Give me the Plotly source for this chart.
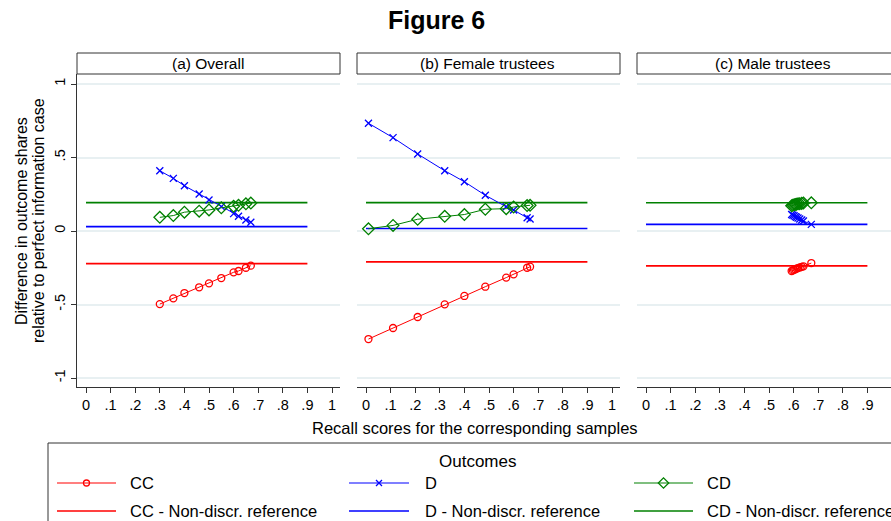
import plotly.graph_objects as go

# ---- data -------------------------------------------------------------
panel_titles = ["(a) Overall", "(b) Female trustees", "(c) Male trustees"]

recall_a = [0.30, 0.355, 0.40, 0.46, 0.50, 0.55, 0.60, 0.62, 0.65, 0.67]
cc_a = [-0.497, -0.458, -0.422, -0.383, -0.356, -0.320, -0.281, -0.272, -0.250, -0.236]
d_a = [0.410, 0.358, 0.308, 0.252, 0.211, 0.166, 0.118, 0.100, 0.075, 0.060]
cd_a = [0.093, 0.105, 0.128, 0.135, 0.143, 0.158, 0.168, 0.175, 0.185, 0.190]
ref_a = [-0.222, 0.030, 0.193]   # CC, D, CD non-discriminatory reference

recall_b = [0.01, 0.11, 0.21, 0.32, 0.40, 0.485, 0.57, 0.60, 0.655, 0.667]
cc_b = [-0.735, -0.660, -0.585, -0.499, -0.442, -0.379, -0.317, -0.295, -0.250, -0.243]
d_b = [0.733, 0.635, 0.524, 0.410, 0.335, 0.243, 0.165, 0.143, 0.090, 0.082]
cd_b = [0.015, 0.038, 0.080, 0.100, 0.112, 0.148, 0.152, 0.163, 0.173, 0.175]
ref_b = [-0.210, 0.017, 0.193]

recall_c = [0.592, 0.597, 0.602, 0.607, 0.612, 0.618, 0.625, 0.633, 0.640, 0.672]
cc_c = [-0.272, -0.268, -0.264, -0.260, -0.256, -0.252, -0.248, -0.244, -0.240, -0.218]
d_c = [0.112, 0.108, 0.104, 0.098, 0.093, 0.088, 0.082, 0.075, 0.068, 0.045]
cd_c = [0.172, 0.175, 0.178, 0.180, 0.182, 0.185, 0.186, 0.188, 0.190, 0.192]
ref_c = [-0.237, 0.045, 0.192]

ref_span = [0, 0.9]

x_ticks = [0, 0.1, 0.2, 0.3, 0.4, 0.5, 0.6, 0.7, 0.8, 0.9, 1]
x_ticklabels = ["0", ".1", ".2", ".3", ".4", ".5", ".6", ".7", ".8", ".9", "1"]
y_ticks = [-1, -0.5, 0, 0.5, 1]
y_ticklabels = ["-1", "-.5", "0", ".5", "1"]

outcomes = ["CC", "D", "CD"]
colors = {"CC": "#ff0000", "D": "#0000ff", "CD": "#008000"}
symbols = {"CC": "circle-open", "D": "x-thin-open", "CD": "diamond-open"}
msize = {"CC": 7, "D": 7, "CD": 9}

panels = [
    (recall_a, {"CC": cc_a, "D": d_a, "CD": cd_a}, ref_a),
    (recall_b, {"CC": cc_b, "D": d_b, "CD": cd_b}, ref_b),
    (recall_c, {"CC": cc_c, "D": d_c, "CD": cd_c}, ref_c),
]

# ---- geometry (pixels) -----------------------------------------------
W, H = 891, 521


def fx(p):
    return p / W


def fy(p):
    return 1 - p / H


FONT = "Liberation Sans, Arial, sans-serif"
panel_px = [(77, 340), (357, 620), (637, 906)]
plot_top, plot_bottom = 74, 387
head_top = 53
unit_px = 246.0
x_lo = -9 / unit_px

fig = go.Figure()

for i, (recall, series, refs) in enumerate(panels):
    ax = "" if i == 0 else str(i + 1)
    xa, ya = "x" + ax, "y" + ax
    # reference lines
    for k, name in enumerate(outcomes):
        fig.add_trace(go.Scatter(
            x=ref_span, y=[refs[k], refs[k]], mode="lines",
            line=dict(color=colors[name], width=1.6),
            xaxis=xa, yaxis=ya, showlegend=False, hoverinfo="skip"))
    # estimated shares
    for name in outcomes:
        fig.add_trace(go.Scatter(
            x=recall, y=series[name], mode="lines+markers",
            line=dict(color=colors[name], width=1),
            marker=dict(symbol=symbols[name], size=msize[name],
                        color=colors[name], line=dict(width=1.3, color=colors[name])),
            xaxis=xa, yaxis=ya, showlegend=False, cliponaxis=False))

y_range = [-(plot_bottom - 231) / 147.0, (231 - plot_top) / 147.0]
layout = dict(
    width=W, height=H, margin=dict(l=0, r=0, t=0, b=0),
    paper_bgcolor="white", plot_bgcolor="rgba(0,0,0,0)",
    font=dict(family=FONT, color="#000", size=14),
    showlegend=False,
)

TICKSIZE = 14.5
for i, (l, r) in enumerate(panel_px):
    ax = "" if i == 0 else str(i + 1)
    right = min(r, W)
    x_hi = x_lo + (right - l) / unit_px
    layout["xaxis" + ax] = dict(
        domain=[fx(l), fx(right)], range=[x_lo, x_hi], anchor="y" + ax,
        tickvals=x_ticks, ticktext=x_ticklabels, ticks="outside", ticklen=5,
        tickcolor="#333", tickfont=dict(size=TICKSIZE, family=FONT),
        showline=True, linecolor="#333", linewidth=1,
        showgrid=False, zeroline=False, fixedrange=True)
    ydict = dict(
        domain=[fy(plot_bottom), fy(plot_top)], range=y_range, anchor="x" + ax,
        tickvals=y_ticks, showgrid=True, gridcolor="#e8f0f2", gridwidth=1.5,
        zeroline=False, fixedrange=True)
    if i == 0:
        ydict.update(ticktext=y_ticklabels, ticks="outside", ticklen=5,
                     tickcolor="#333", tickangle=-90,
                     tickfont=dict(size=TICKSIZE, family=FONT),
                     showline=True, linecolor="#333", linewidth=1)
    else:
        ydict.update(showticklabels=False, ticks="", showline=False)
    layout["yaxis" + ax] = ydict

# overlay axes in pixel units for the key
layout["xaxis4"] = dict(domain=[0, 1], range=[0, W], visible=False, fixedrange=True, anchor="y4")
layout["yaxis4"] = dict(domain=[0, 1], range=[H, 0], visible=False, fixedrange=True, anchor="x4")

shapes = []
annotations = []

# panel header boxes
header_centres = [208, 488, 773]
for (l, r), title, cx in zip(panel_px, panel_titles, header_centres):
    shapes.append(dict(type="rect", xref="paper", yref="paper",
                       x0=fx(l), x1=fx(r), y0=fy(plot_top), y1=fy(head_top),
                       line=dict(color="#333", width=1), fillcolor="white"))
    annotations.append(dict(text=title, xref="paper", yref="paper",
                            x=fx(cx), y=fy((head_top + plot_top) / 2),
                            showarrow=False, xanchor="center", yanchor="middle",
                            font=dict(size=15.5, family=FONT)))

# figure title
annotations.append(dict(text="<b>Figure 6</b>", xref="paper", yref="paper",
                        x=fx(436), y=fy(20), showarrow=False,
                        xanchor="center", yanchor="middle",
                        font=dict(size=25, family=FONT)))

# axis titles
annotations.append(dict(text="Recall scores for the corresponding samples",
                        xref="paper", yref="paper", x=fx(475), y=fy(428),
                        showarrow=False, xanchor="center", yanchor="middle",
                        font=dict(size=16.5, family=FONT)))
annotations.append(dict(text="Difference in outcome shares", xref="paper", yref="paper",
                        x=fx(21), y=fy(221), textangle=-90, showarrow=False,
                        xanchor="center", yanchor="middle", font=dict(size=16, family=FONT)))
annotations.append(dict(text="relative to perfect information case", xref="paper", yref="paper",
                        x=fx(38), y=fy(221), textangle=-90, showarrow=False,
                        xanchor="center", yanchor="middle", font=dict(size=16, family=FONT)))

# key box
shapes.append(dict(type="rect", xref="paper", yref="paper",
                   x0=fx(48), x1=fx(960), y0=fy(560), y1=fy(443),
                   line=dict(color="#333", width=1), fillcolor="rgba(0,0,0,0)"))
annotations.append(dict(text="Outcomes", xref="paper", yref="paper",
                        x=fx(477), y=fy(461), showarrow=False,
                        xanchor="center", yanchor="middle", font=dict(size=17, family=FONT)))

key_cols = [(57, 116, 128), (349, 409, 423), (634, 693, 705)]
key_rows = [483, 511]
for (x0, x1, xt), name in zip(key_cols, outcomes):
    for row, y in enumerate(key_rows):
        fig.add_trace(go.Scatter(
            x=[x0, x1], y=[y, y], mode="lines",
            line=dict(color=colors[name], width=1.2 if row == 0 else 1.6),
            xaxis="x4", yaxis="y4", showlegend=False, hoverinfo="skip"))
        label = name if row == 0 else name + " - Non-discr. reference"
        annotations.append(dict(text=label, xref="paper", yref="paper",
                                x=fx(xt), y=fy(y), showarrow=False,
                                xanchor="left", yanchor="middle",
                                font=dict(size=16.5, family=FONT)))
    fig.add_trace(go.Scatter(
        x=[(x0 + x1) / 2], y=[key_rows[0]], mode="markers",
        marker=dict(symbol=symbols[name], size=msize[name] - 1, color=colors[name],
                    line=dict(width=1.3, color=colors[name])),
        xaxis="x4", yaxis="y4", showlegend=False, hoverinfo="skip"))

layout["shapes"] = shapes
layout["annotations"] = annotations
fig.update_layout(**layout)

fig.write_html("out.html")
